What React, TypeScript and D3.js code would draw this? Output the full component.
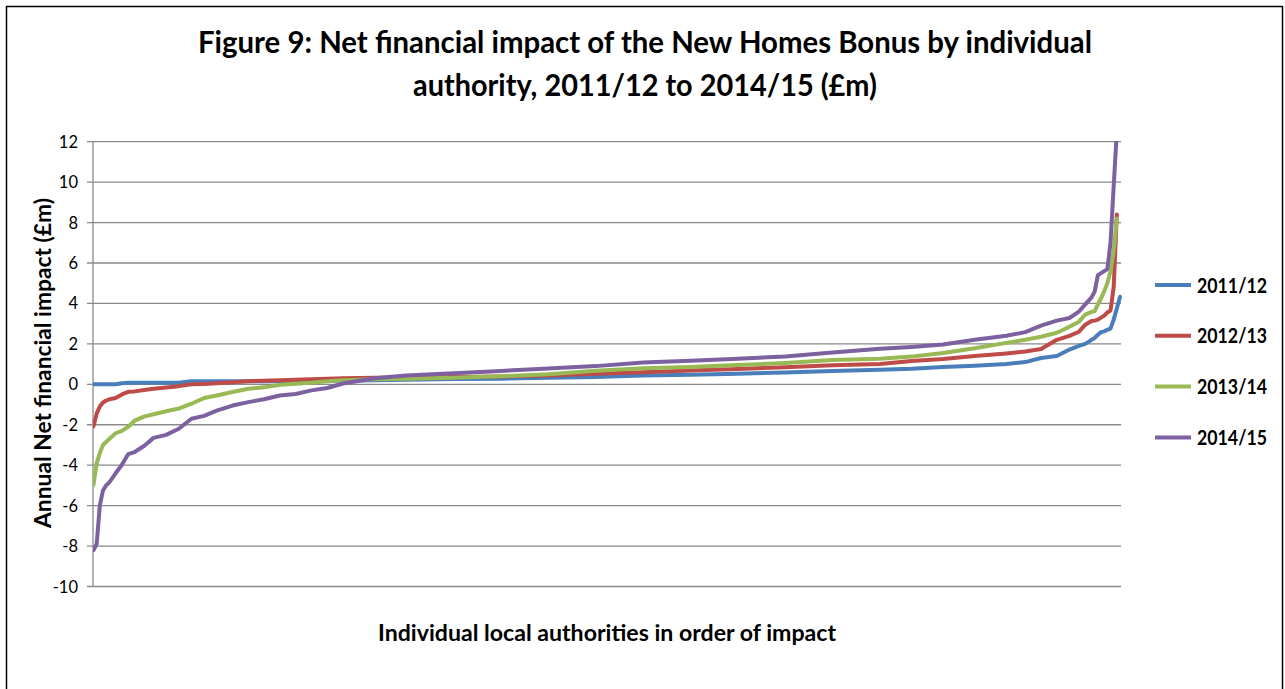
import React from "react";
import * as d3 from "d3";

const ranks = [1,2,3,4,5,6,8,10,12,14,17,20,24,28,32,36,40,45,50,55,60,65,70,75,80,90,100,115,130,145,160,175,190,205,220,235,250,260,270,280,290,296,301,306,310,313,315,317,318,319,320,321,322,323,324,325,326];

const s2011 = [0,0,0,0,0,0,0,0.05,0.08,0.08,0.08,0.08,0.08,0.08,0.15,0.15,0.15,0.15,0.15,0.15,0.16,0.16,0.17,0.18,0.18,0.2,0.22,0.26,0.28,0.33,0.36,0.43,0.47,0.52,0.59,0.66,0.72,0.77,0.86,0.92,1.0,1.1,1.3,1.4,1.72,1.9,2.0,2.2,2.3,2.45,2.58,2.62,2.7,2.75,3.2,3.75,4.33];
const s2012 = [-2.07,-1.45,-1.1,-0.9,-0.8,-0.74,-0.68,-0.5,-0.37,-0.35,-0.28,-0.22,-0.16,-0.09,0,0.02,0.05,0.1,0.15,0.18,0.2,0.23,0.25,0.28,0.3,0.33,0.34,0.36,0.39,0.44,0.52,0.6,0.68,0.76,0.85,0.94,1.01,1.15,1.25,1.4,1.53,1.62,1.75,2.2,2.4,2.6,2.95,3.13,3.15,3.2,3.3,3.4,3.55,3.65,4.8,8.4,null];
const s2013 = [-4.97,-3.9,-3.4,-3.0,-2.85,-2.7,-2.42,-2.3,-2.1,-1.8,-1.6,-1.48,-1.33,-1.2,-0.96,-0.68,-0.55,-0.38,-0.22,-0.15,-0.02,0.03,0.08,0.15,0.2,0.25,0.28,0.33,0.4,0.5,0.67,0.8,0.86,0.95,1.06,1.2,1.27,1.37,1.55,1.78,2.05,2.2,2.35,2.55,2.85,3.1,3.45,3.58,3.62,3.95,4.25,4.6,5.0,5.6,6.6,8.2,null];
const s2014 = [-8.2,-7.9,-6.0,-5.25,-5.0,-4.85,-4.4,-3.98,-3.45,-3.35,-3.05,-2.65,-2.5,-2.2,-1.7,-1.56,-1.3,-1.05,-0.88,-0.74,-0.55,-0.48,-0.3,-0.18,0.04,0.3,0.44,0.55,0.66,0.78,0.9,1.08,1.16,1.27,1.38,1.57,1.76,1.85,1.97,2.2,2.4,2.58,2.9,3.15,3.28,3.6,3.95,4.3,4.6,5.4,5.5,5.6,5.7,7.0,9.8,12.5,null];

const seriesNames = ["2011/12", "2012/13", "2013/14", "2014/15"];
const seriesValues = [s2011, s2012, s2013, s2014];
const seriesColors = ["#4A7EBB", "#BE4B48", "#98B954", "#7D60A0"];
const yTicks = [12, 10, 8, 6, 4, 2, 0, -2, -4, -6, -8, -10];

const FONT = "Lato, 'Open Sans', sans-serif";

export default function App() {
  const x = d3.scaleLinear().domain([1, 326]).range([93.5, 1120]);
  const y = d3.scaleLinear().domain([-10, 12]).range([586.5, 141.7]);
  const line = d3
    .line<[number, number | null]>()
    .defined((d) => d[1] !== null)
    .x((d) => x(d[0]))
    .y((d) => y(d[1] as number));

  return (
    <svg
      width={1285}
      height={689}
      style={{ position: "absolute", left: 0, top: 0, background: "#fff" }}
    >
      <rect x={0} y={0} width={1285} height={689} fill="#fff" />
      <rect x={6.5} y={6.5} width={1276} height={700} fill="none" stroke="#000" strokeWidth={1.5} />
      <defs>
        <clipPath id="plot">
          <rect x={93} y={141} width={1030} height={446} />
        </clipPath>
      </defs>
      <text x={645} y={53} textAnchor="middle" fontFamily={FONT} fontWeight={700} fontSize={30} textLength={894} lengthAdjust="spacingAndGlyphs">
        Figure 9: Net financial impact of the New Homes Bonus by individual
      </text>
      <text x={645} y={96} textAnchor="middle" fontFamily={FONT} fontWeight={700} fontSize={30} textLength={464} lengthAdjust="spacingAndGlyphs">
        authority, 2011/12 to 2014/15 (£m)
      </text>
      {yTicks.map((t) => (
        <g key={t}>
          <line x1={87} x2={1121} y1={y(t)} y2={y(t)} stroke="#8a8a8a" strokeWidth={1.3} />
          <text x={78} y={y(t) + 6} textAnchor="end" fontFamily={FONT} fontSize={16.5} fill="#000">
            {t}
          </text>
        </g>
      ))}
      <line x1={93} x2={93} y1={141.7} y2={586.5} stroke="#8a8a8a" strokeWidth={1.3} />
      <g clipPath="url(#plot)">
        {seriesValues.map((vals, i) => (
          <path
            key={seriesNames[i]}
            d={line(ranks.map((r, j) => [r, vals[j]] as [number, number | null])) || ""}
            fill="none"
            stroke={seriesColors[i]}
            strokeWidth={4}
            strokeLinejoin="round"
            strokeLinecap="round"
          />
        ))}
      </g>
      <text
        transform="translate(50.5,363) rotate(-90)"
        textAnchor="middle"
        fontFamily={FONT}
        fontWeight={700}
        fontSize={22}
        textLength={330}
        lengthAdjust="spacingAndGlyphs"
      >
        Annual Net financial impact (£m)
      </text>
      <text x={607} y={641} textAnchor="middle" fontFamily={FONT} fontWeight={700} fontSize={22} textLength={458} lengthAdjust="spacingAndGlyphs">
        Individual local authorities in order of impact
      </text>
      {seriesNames.map((n, i) => (
        <g key={n}>
          <line x1={1155} x2={1191} y1={285 + i * 50.8} y2={285 + i * 50.8} stroke={seriesColors[i]} strokeWidth={4} />
          <text x={1197} y={285 + i * 50.8 + 7.5} fontFamily={FONT} fontWeight={700} fontSize={21} textLength={70} lengthAdjust="spacingAndGlyphs">
            {n}
          </text>
        </g>
      ))}
    </svg>
  );
}
